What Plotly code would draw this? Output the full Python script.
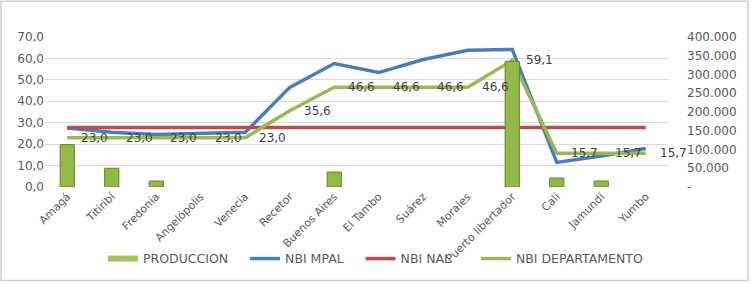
import plotly.graph_objects as go

categories = ["Amagá", "Titiribí", "Fredonia", "Angelópolis", "Venecia", "Recetor",
              "Buenos Aires", "El Tambo", "Suárez", "Morales", "Puerto libertador",
              "Cali", "Jamundí", "Yumbo"]
produccion = [113000, 50000, 16000, None, None, None, 40000, None, None, None, 335000, 24000, 16000, None]
nbi_mpal = [27.5, 25.5, 24.5, 25.0, 25.5, 46.5, 57.6, 53.4, 59.5, 63.8, 64.2, 11.5, 14.5, 18.0]
nbi_nal = [27.8] * 14
nbi_dep = [23.0, 23.0, 23.0, 23.0, 23.0, 35.6, 46.6, 46.6, 46.6, 46.6, 59.1, 15.7, 15.7, 15.7]

left_ticks = [0, 10, 20, 30, 40, 50, 60, 70]
right_ticks = [0, 50000, 100000, 150000, 200000, 250000, 300000, 350000, 400000]
right_text = ["-" if v == 0 else f"{v:,}".replace(",", ".") for v in right_ticks]

FONT = "DejaVu Sans"
GRAY = "#595959"
PAD = "\u00a0" * 3  # legend spacing

fig = go.Figure()

fig.add_trace(go.Scatter(x=categories, y=nbi_mpal, mode="lines", name="NBI MPAL" + PAD,
                         line=dict(color="#4A7EBB", width=3.5), yaxis="y"))
fig.add_trace(go.Scatter(x=categories, y=nbi_nal, mode="lines", name="NBI NAL" + PAD + "\u00a0\u00a0",
                         line=dict(color="#BE4B48", width=3.5), yaxis="y"))
fig.add_trace(go.Scatter(x=categories, y=nbi_dep, mode="lines", name="NBI DEPARTAMENTO",
                         line=dict(color="#98B954", width=3.5), yaxis="y"))
fig.add_trace(go.Bar(x=categories, y=produccion, name="PRODUCCION", yaxis="y2",
                     width=0.32, showlegend=False, legendgroup="prod",
                     marker=dict(color="#93B949", line=dict(color="#66852A", width=1))))
# legend entry for production (flat bar look)
fig.add_trace(go.Scatter(x=[None], y=[None], mode="lines", name="PRODUCCION" + PAD,
                         legendgroup="prod", legendrank=1,
                         line=dict(color="#A4C45E", width=6)))

for c, v in zip(categories, nbi_dep):
    fig.add_annotation(x=c, y=v, xref="x", yref="y", text=f"{v:.1f}".replace(".", ","),
                       showarrow=False, xanchor="left", yanchor="middle", xshift=12,
                       font=dict(family=FONT, size=12, color="#404040"))

fig.update_layout(
    width=752, height=284,
    margin=dict(l=45, r=84, t=37, b=96),
    paper_bgcolor="white", plot_bgcolor="white",
    separators=",.",
    font=dict(family=FONT, size=12, color=GRAY),
    barmode="overlay",
    xaxis=dict(type="category", tickangle=-45, showgrid=False, showline=False,
               ticks="", automargin=False, tickfont=dict(family=FONT, size=11, color=GRAY),
               range=[-0.5, len(categories) - 0.5]),
    yaxis=dict(range=[0, 70], tickvals=left_ticks, tickformat=".1f",
               showgrid=True, gridcolor="#D9D9D9", gridwidth=1, zeroline=False,
               showline=False, ticks="", automargin=False,
               tickfont=dict(family=FONT, size=12, color=GRAY)),
    yaxis2=dict(range=[0, 400000], overlaying="y", side="right", tickvals=right_ticks,
                ticktext=right_text, showgrid=False, zeroline=False, showline=False,
                ticks="", automargin=False, ticklabelstandoff=18,
                tickfont=dict(family=FONT, size=12, color=GRAY)),
    legend=dict(orientation="h", x=0.093, xanchor="left", y=-0.47, yanchor="middle",
                font=dict(family=FONT, size=12.5, color=GRAY), traceorder="normal",
                itemwidth=30, bgcolor="rgba(0,0,0,0)"),
    showlegend=True,
)

fig.add_shape(type="rect", xref="paper", yref="paper",
              x0=(1 - 45) / 623, x1=(748 - 45) / 623,
              y0=(188 - 282) / 151, y1=(188 - 1) / 151,
              line=dict(color="#D0D0D0", width=1.5), fillcolor="rgba(0,0,0,0)", layer="below")

fig.write_html("out.html", config={"displayModeBar": False},
               post_script="document.body.style.margin='0';")
